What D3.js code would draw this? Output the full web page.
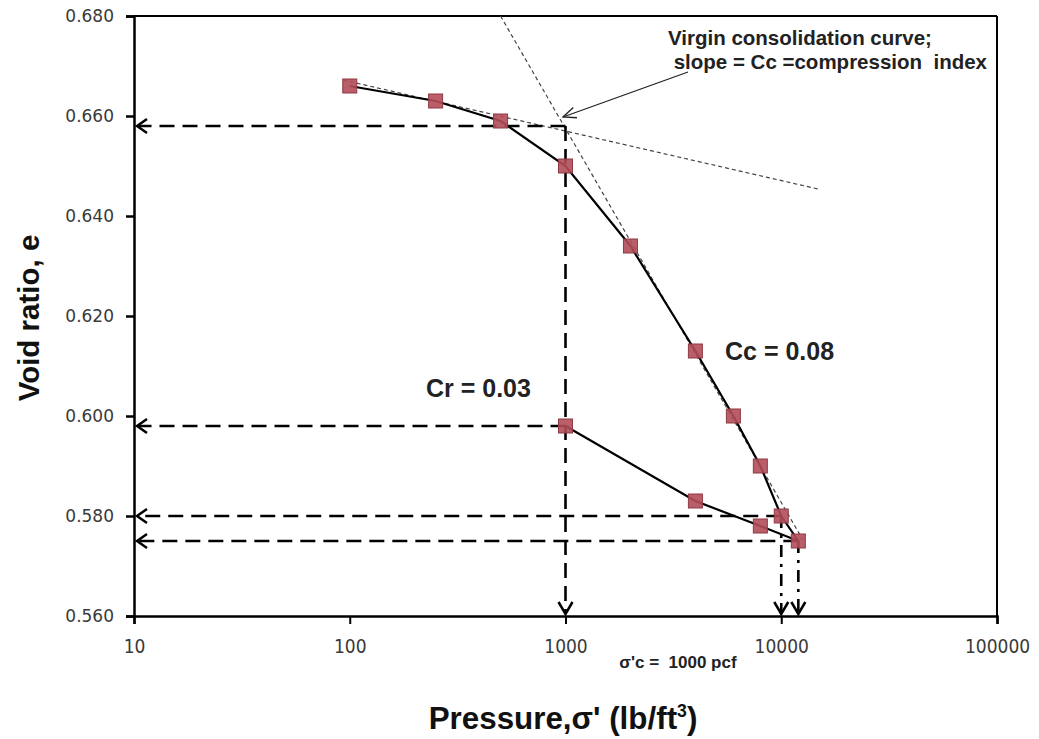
<!DOCTYPE html>
<html>
<head>
<meta charset="utf-8">
<script src="https://cdn.jsdelivr.net/npm/d3@7"></script>
<style>
  html, body { margin: 0; padding: 0; background: #fff; }
  svg { display: block; }
</style>
</head>
<body>
<svg id="chart" width="1039" height="739"></svg>
<script>
// ---------- DATA ----------
const loadPressure = [100, 250, 500, 1000, 2000, 4000, 6000, 8000, 10000, 12000];
const loadVoid     = [0.666, 0.663, 0.659, 0.650, 0.634, 0.613, 0.600, 0.590, 0.580, 0.575];
const unloadPressure = [12000, 8000, 4000, 1000];
const unloadVoid     = [0.575, 0.578, 0.583, 0.598];
const xTicks = [10, 100, 1000, 10000, 100000];
const yTicks = [0.560, 0.580, 0.600, 0.620, 0.640, 0.660, 0.680];
// tangent construction lines (pressure, void ratio)
const recompTangentP = [93, 14800];
const recompTangentE = [0.6672, 0.6454];
const virginTangentP = [500, 12600];
const virginTangentE = [0.680, 0.5752];
// projected read-offs
const readHoriz = [ {p: 1000, e: 0.658}, {p: 1000, e: 0.598}, {p: 10000, e: 0.580}, {p: 12000, e: 0.575} ];
const readVert  = [ {p: 1000, e: 0.658, style: "dash"}, {p: 10000, e: 0.580, style: "dashdot"}, {p: 12000, e: 0.575, style: "dashdot"} ];

// ---------- LAYOUT ----------
const svg = d3.select("#chart");
const L = 134, R = 997, T = 16, B = 616;
const x = d3.scaleLog().domain([10, 100000]).range([L, R]);
const y = d3.scaleLinear().domain([0.560, 0.680]).range([B, T]);

// frame (top & right)
svg.append("line").attr("x1", L).attr("x2", R).attr("y1", T).attr("y2", T)
  .attr("stroke", "#000").attr("stroke-width", 2);
svg.append("line").attr("x1", R).attr("x2", R).attr("y1", T).attr("y2", B)
  .attr("stroke", "#000").attr("stroke-width", 2);

// Y axis
const yAxis = svg.append("g").attr("transform", `translate(${L},0)`)
  .call(d3.axisLeft(y).tickValues(yTicks).tickFormat(d3.format(".3f")).tickSize(8).tickPadding(12));
yAxis.select(".domain").attr("stroke-width", 2.5);
yAxis.selectAll(".tick line").attr("stroke-width", 2.5);
yAxis.selectAll("text").attr("font-family", "DejaVu Sans, sans-serif").attr("font-size", 17).attr("fill", "#3a3a3a");

// X axis
const xAxis = svg.append("g").attr("transform", `translate(0,${B})`)
  .call(d3.axisBottom(x).tickValues(xTicks).tickFormat(d3.format("d")).tickSize(8).tickPadding(16));
xAxis.select(".domain").attr("stroke-width", 2.5);
xAxis.selectAll(".tick line").attr("stroke-width", 2);
xAxis.selectAll("text").attr("font-family", "DejaVu Sans, sans-serif").attr("font-size", 19)
  .attr("fill", "#3a3a3a").attr("transform", "scale(0.9,1)");

// tangent lines
function tangent(P, E) {
  svg.append("line")
    .attr("x1", x(P[0])).attr("y1", y(E[0]))
    .attr("x2", x(P[1])).attr("y2", y(E[1]))
    .attr("stroke", "#444").attr("stroke-width", 1.2).attr("stroke-dasharray", "4,3");
}
tangent(recompTangentP, recompTangentE);
tangent(virginTangentP, virginTangentE);

// open arrowhead helper
function openArrow(tipX, tipY, dir, len, half) {
  let pts;
  if (dir === "left") pts = [[tipX + len, tipY - half], [tipX, tipY], [tipX + len, tipY + half]];
  else pts = [[tipX - half, tipY - len], [tipX, tipY], [tipX + half, tipY - len]];
  svg.append("path").attr("d", d3.line()(pts))
    .attr("fill", "none").attr("stroke", "#000").attr("stroke-width", 2.5);
}

// horizontal read-off lines
readHoriz.forEach(d => {
  svg.append("line")
    .attr("x1", x(d.p)).attr("x2", L + 4)
    .attr("y1", y(d.e)).attr("y2", y(d.e))
    .attr("stroke", "#000").attr("stroke-width", 2.6).attr("stroke-dasharray", "15,8");
  openArrow(L + 3, y(d.e), "left", 10, 7);
});
// vertical read-off lines
readVert.forEach(d => {
  svg.append("line")
    .attr("x1", x(d.p)).attr("x2", x(d.p))
    .attr("y1", y(d.e)).attr("y2", B - 2)
    .attr("stroke", "#000").attr("stroke-width", 2.6)
    .attr("stroke-dasharray", d.style === "dash" ? "15,8" : "12,7,3,7");
  openArrow(x(d.p), B - 2, "down", 12, 7);
});

// curves
const line = d3.line().x(d => x(d[0])).y(d => y(d[1]));
const loadPts = loadPressure.map((p, i) => [p, loadVoid[i]]);
const unloadPts = unloadPressure.map((p, i) => [p, unloadVoid[i]]);
svg.append("path").attr("d", line(loadPts)).attr("fill", "none").attr("stroke", "#000").attr("stroke-width", 2.2);
svg.append("path").attr("d", line(unloadPts)).attr("fill", "none").attr("stroke", "#000").attr("stroke-width", 2.2);

// markers
const s = 14;
svg.selectAll("rect.m").data(loadPts.concat(unloadPts.slice(1))).enter().append("rect")
  .attr("class", "m")
  .attr("x", d => x(d[0]) - s / 2).attr("y", d => y(d[1]) - s / 2)
  .attr("width", s).attr("height", s)
  .attr("fill", "#b24e59").attr("fill-opacity", 0.9)
  .attr("stroke", "#8e3a44").attr("stroke-width", 1);

// annotation arrow
svg.append("line").attr("x1", 688).attr("y1", 72).attr("x2", 563).attr("y2", 117)
  .attr("stroke", "#222").attr("stroke-width", 1.3);
(function () {
  const tx = 563, ty = 117, ang = Math.atan2(72 - 117, 688 - 563);
  const l = 14, a = 0.4;
  const p1 = [tx + l * Math.cos(ang + a), ty + l * Math.sin(ang + a)];
  const p2 = [tx + l * Math.cos(ang - a), ty + l * Math.sin(ang - a)];
  svg.append("path").attr("d", d3.line()([p1, [tx, ty], p2]))
    .attr("fill", "none").attr("stroke", "#222").attr("stroke-width", 1.3);
})();

// texts
const bold = "Liberation Sans, Arial, sans-serif";
svg.append("text").attr("x", 668).attr("y", 45).text("Virgin consolidation curve;")
  .attr("font-family", bold).attr("font-weight", "bold").attr("font-size", 20.5).attr("fill", "#222");
svg.append("text").attr("x", 668).attr("y", 69).text(" slope = Cc =compression  index")
  .attr("font-family", bold).attr("font-weight", "bold").attr("font-size", 20.5).attr("fill", "#222")
  .style("white-space", "pre");
svg.append("text").attr("x", 725).attr("y", 360).text("Cc = 0.08")
  .attr("font-family", bold).attr("font-weight", "bold").attr("font-size", 25).attr("fill", "#222");
svg.append("text").attr("x", 426).attr("y", 397).text("Cr = 0.03")
  .attr("font-family", bold).attr("font-weight", "bold").attr("font-size", 25).attr("fill", "#222");
svg.append("text").attr("x", 678).attr("y", 668).attr("text-anchor", "middle").text("σ'c =  1000 pcf")
  .attr("font-family", bold).attr("font-weight", "bold").attr("font-size", 17).attr("fill", "#222")
  .style("white-space", "pre");

// axis titles
svg.append("text").attr("transform", "translate(39,318) rotate(-90)").attr("text-anchor", "middle")
  .text("Void ratio, e")
  .attr("font-family", bold).attr("font-weight", "bold").attr("font-size", 29.5).attr("fill", "#111");
const xt = svg.append("text").attr("transform", "translate(563,729) scale(0.98,1)").attr("text-anchor", "middle")
  .attr("font-family", bold).attr("font-weight", "bold").attr("font-size", 32).attr("fill", "#111");
xt.append("tspan").text("Pressure,σ' (lb/ft");
xt.append("tspan").attr("dy", -12).attr("font-size", 18).text("3");
xt.append("tspan").attr("dy", 12).text(")");
</script>
</body>
</html>
